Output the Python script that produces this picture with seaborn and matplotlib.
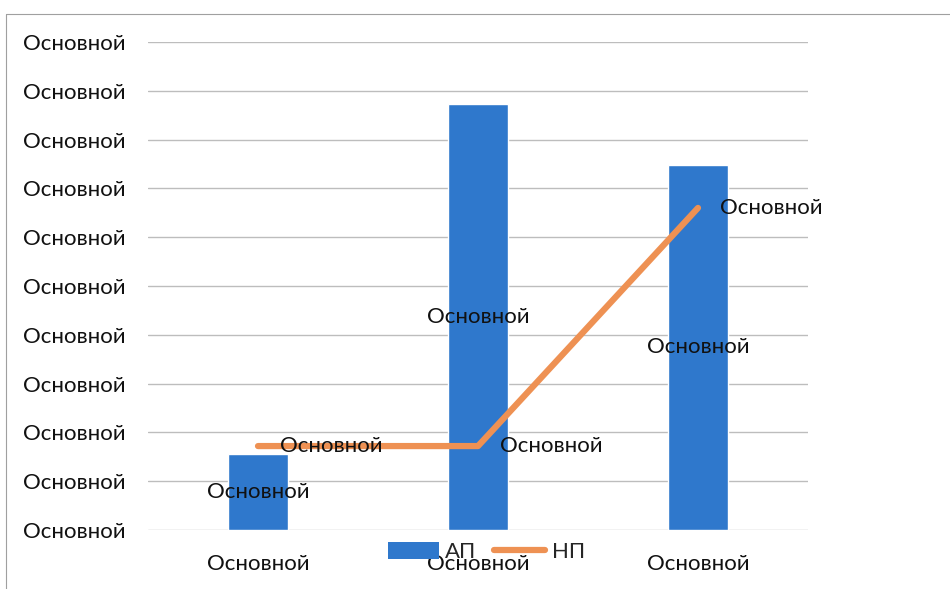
import numpy as np
import pandas as pd
import seaborn as sns
import matplotlib.pyplot as plt
from matplotlib.patches import Patch
from matplotlib.lines import Line2D

# chart values
positions = [0, 1, 2]
x_labels = ["Основной", "Основной", "Основной"]
ap_values = [1.55, 8.72, 7.48]
np_values = [1.72, 1.72, 6.6]
bar_labels = ["Основной", "Основной", "Основной"]
line_labels = ["Основной", "Основной", "Основной"]
y_ticks = list(range(11))
y_tick_labels = ["Основной"] * 11

sns.set_style("white")
plt.rcParams['font.family'] = ['Lato', 'DejaVu Sans']

df = pd.DataFrame({'pos': positions, 'АП': ap_values, 'НП': np_values})

fig = plt.figure(figsize=(9.5, 5.89), dpi=100)
ax = fig.add_axes([148 / 950, 1 - 530 / 589, 660 / 950, 488 / 589])

blue = '#2f78cc'
orange = '#ee9153'
fs = 16

ax.set_axisbelow(True)
ax.yaxis.grid(True, color='#bdbdbd', linewidth=1)
sns.barplot(data=df, x='pos', y='АП', color=blue, width=0.27, saturation=1, ax=ax)
ax.plot(df['pos'], df['НП'], color=orange, linewidth=4.5, solid_capstyle='round',
        solid_joinstyle='round', zorder=3)

ax.set_xlim(-0.5, 2.5)
ax.set_ylim(0, 10)
ax.set_yticks(y_ticks)
ax.set_yticklabels(y_tick_labels)
ax.set_xticks(positions)
ax.set_xticklabels(x_labels)
ax.set_xlabel('')
ax.set_ylabel('')
ax.tick_params(axis='both', length=0, labelsize=fs, colors='#111111')
ax.tick_params(axis='y', pad=16)
ax.tick_params(axis='x', pad=17)
for s in ax.spines.values():
    s.set_visible(False)

# data labels
for x, v, t in zip(positions, ap_values, bar_labels):
    ax.text(x, v / 2, t, ha='center', va='center', fontsize=fs, color='#111111', zorder=4)
for x, v, t in zip(positions, np_values, line_labels):
    ax.annotate(t, (x, v), xytext=(16, 0), textcoords='offset points',
                ha='left', va='center', fontsize=fs, color='#111111', zorder=4)

handles = [Patch(facecolor=blue, edgecolor='none'),
           Line2D([0], [0], color=orange, linewidth=4.5, solid_capstyle='round')]
fig.legend(handles, ['АП', 'НП'], loc='center', bbox_to_anchor=(0.512, 1 - 552 / 589),
           ncol=2, frameon=False, fontsize=fs, handlelength=2.3, handleheight=0.8,
           columnspacing=0.8, handletextpad=0.3)

# chart frame
fig.add_artist(Line2D([6 / 950, 1], [1 - 14 / 589, 1 - 14 / 589], color='#a0a0a0', linewidth=0.8))
fig.add_artist(Line2D([6 / 950, 6 / 950], [0, 1 - 14 / 589], color='#a0a0a0', linewidth=0.8))

fig.savefig('out.png', dpi=100)
